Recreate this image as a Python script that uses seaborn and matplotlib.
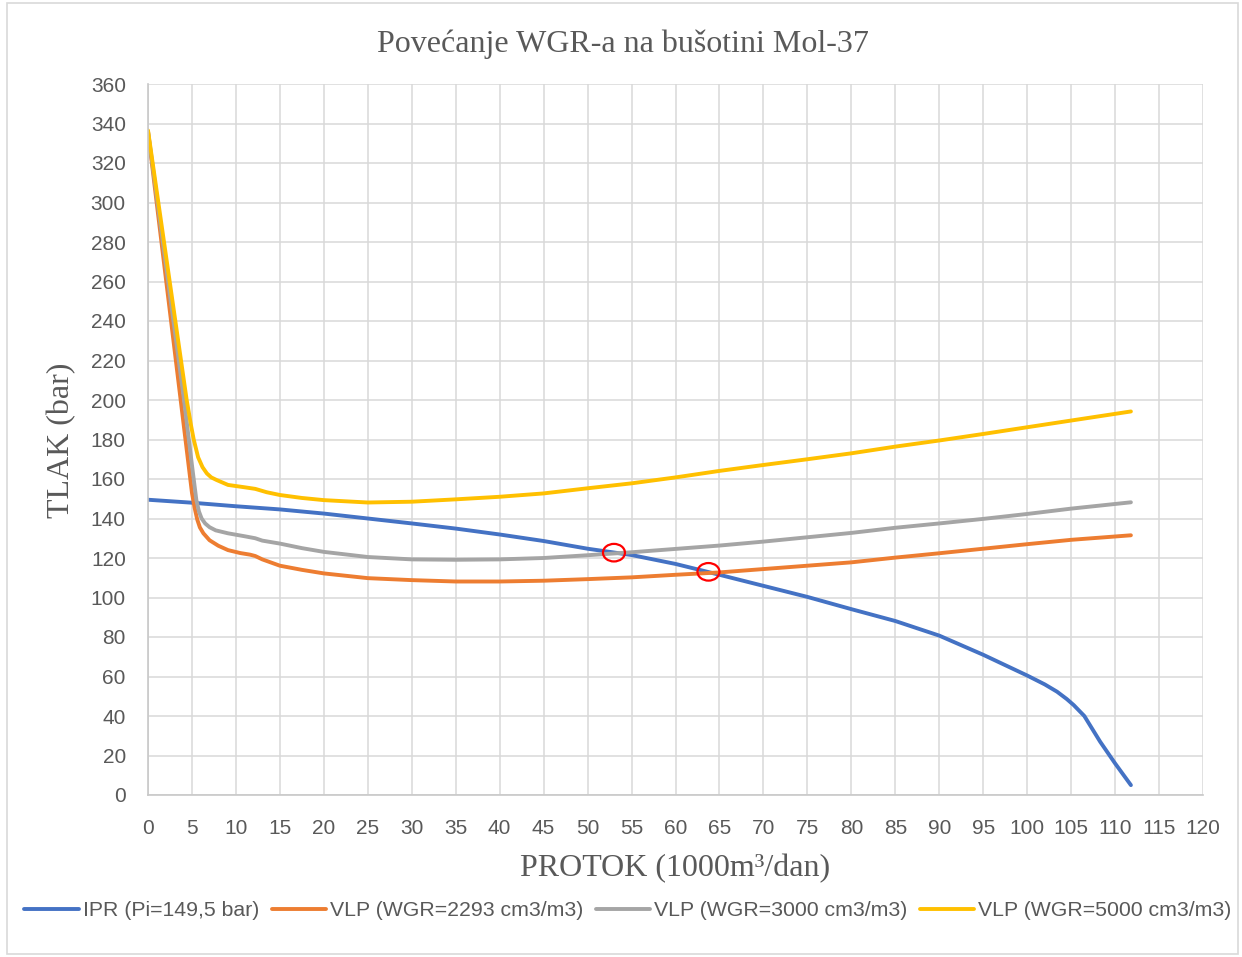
import numpy as np
import pandas as pd
import seaborn as sns
import matplotlib.pyplot as plt
from matplotlib.path import Path
from matplotlib.patches import Rectangle

# IPR krivulja
ipr_x = [0, 5, 10, 15, 20, 25, 30, 35, 40, 45, 50, 55, 60, 65, 70, 75, 80, 85,
         90, 95, 100, 102, 103.4, 104.5, 105.3, 106.5, 108.3, 110, 111.8]
ipr_y = [149.5, 148, 146.2, 144.6, 142.5, 140, 137.5, 134.9, 131.9, 128.6, 124.7,
         121.5, 117, 111.5, 105.9, 100.3, 94.1, 88.1, 80.7, 71, 60.5, 56, 52.3,
         48.6, 45.5, 40, 27, 16, 5]

# VLP, WGR=2293 cm3/m3
vlp1_x = [0, 5, 5.3, 5.6, 5.9, 6.3, 7, 8, 9.1, 10.5, 11.6, 12.2, 13, 15, 17.5,
          20, 25, 30, 35, 40, 45, 50, 55, 60, 65, 70, 75, 80, 85, 90, 95, 100,
          105, 111.8]
vlp1_y = [336, 153, 145.5, 139.5, 135.5, 132.5, 129, 126.2, 124, 122.5, 121.7,
          121, 119.3, 116.1, 114, 112.2, 109.8, 108.8, 108.1, 108.1, 108.5, 109.3,
          110.2, 111.5, 112.7, 114.4, 116.1, 117.8, 120.2, 122.4, 124.7, 127,
          129.2, 131.5]

# VLP, WGR=3000 cm3/m3
vlp2_x = [0, 4.1, 5.0, 5.5, 5.8, 6.1, 6.5, 7.0, 7.7, 9.1, 11, 12.2, 13, 15, 17.5,
          20, 25, 30, 35, 40, 45, 50, 55, 60, 65, 70, 75, 80, 85, 90, 95, 100,
          105, 111.8]
vlp2_y = [336, 200, 167, 149.4, 143.5, 140, 137.5, 135.6, 134, 132.5, 131, 130,
          128.8, 127.3, 125, 123.1, 120.5, 119.3, 119.1, 119.3, 120, 121.4, 122.9,
          124.6, 126.3, 128.3, 130.5, 132.7, 135.3, 137.5, 139.8, 142.3, 145,
          148.2]

# VLP, WGR=5000 cm3/m3
vlp3_x = [0, 4.4, 4.9, 5.2, 5.7, 6.2, 6.7, 7.2, 7.8, 9.1, 11, 12.2, 13.5, 15,
          17.5, 20, 25, 30, 35, 40, 45, 50, 55, 60, 65, 70, 75, 80, 85, 90, 95,
          100, 105, 111.8]
vlp3_y = [336.5, 200, 187, 180, 171, 166, 162.8, 160.8, 159.5, 157, 155.8, 155,
          153.3, 151.9, 150.4, 149.3, 148.1, 148.5, 149.7, 151, 152.7, 155.3,
          157.8, 160.8, 164.1, 167.1, 170, 173, 176.4, 179.5, 182.8, 186.2,
          189.6, 194.2]

labels = ['IPR (Pi=149,5 bar)', 'VLP (WGR=2293 cm3/m3)',
          'VLP (WGR=3000 cm3/m3)', 'VLP (WGR=5000 cm3/m3)']
colors = ['#4472C4', '#ED7D31', '#A5A5A5', '#FFC000']

# radne tocke (presjeci)
tocke_x = [53, 63.75]
tocke_y = [122.7, 113]

frames = []
for lab, xs, ys in zip(labels, [ipr_x, vlp1_x, vlp2_x, vlp3_x],
                       [ipr_y, vlp1_y, vlp2_y, vlp3_y]):
    frames.append(pd.DataFrame({'protok': xs, 'tlak': ys, 'serija': lab}))
df = pd.concat(frames, ignore_index=True)

sns.set_theme(style='white')
plt.rcParams['font.family'] = ['Liberation Sans', 'DejaVu Sans']
txt = '#595959'

fig = plt.figure(figsize=(12.42, 9.57), dpi=100)
ax = fig.add_axes([148 / 1242, 1 - 795 / 957, 1055 / 1242, 711 / 957])

sns.lineplot(data=df, x='protok', y='tlak', hue='serija', hue_order=labels,
             palette=colors, sort=False, estimator=None, lw=2.8, ax=ax)
for ln in ax.get_lines():
    ln.set_solid_joinstyle('round')
    ln.set_solid_capstyle('round')

circ = Path.unit_circle()
ell = Path(circ.vertices * np.array([1.0, 0.8]), circ.codes)
ax.scatter(tocke_x, tocke_y, marker=ell, s=250, facecolors='none',
           edgecolors='#FF0000', linewidths=1.6, zorder=5)

ax.set_xlim(0, 120)
ax.set_ylim(0, 360)
ax.set_xticks(range(0, 121, 5))
ax.set_yticks(range(0, 361, 20))
ax.grid(True, color='#d9d9d9', lw=1.1)
for s in ['top', 'right']:
    ax.spines[s].set_visible(False)
for s in ['left', 'bottom']:
    ax.spines[s].set_color('#c8c8c8')
    ax.spines[s].set_linewidth(1.2)
ax.tick_params(axis='both', length=0, labelsize=15, colors=txt)
ax.tick_params(axis='x', pad=17)
ax.tick_params(axis='y', pad=16)
ax.set_xlabel('')
ax.set_ylabel('')

fig.text(0.5016, 1 - 44 / 957, 'Povećanje WGR-a na bušotini Mol-37',
         family='Liberation Serif', fontsize=23, color=txt, ha='center', va='center')
fig.text(62 / 1242, 1 - 440 / 957, 'TLAK (bar)', family='Liberation Serif',
         fontsize=23, color=txt, rotation=90, ha='center', va='center')
fig.text(675 / 1242, 1 - 869 / 957, 'PROTOK (1000m³/dan)',
         family='Liberation Serif', fontsize=23, color=txt, ha='center', va='center')

sns.move_legend(ax, 'center', bbox_to_anchor=(0.455, -0.163), ncol=4,
                frameon=False, title=None, fontsize=15.3, handlelength=2.55,
                handletextpad=0.2, columnspacing=0.58, labelcolor=txt)

fig.add_artist(Rectangle((7 / 1242, 3 / 957), 1231 / 1242, 951 / 957,
                         transform=fig.transFigure, fill=False,
                         edgecolor='#d9d9d9', lw=1.2))

fig.savefig('out.png', dpi=100)
